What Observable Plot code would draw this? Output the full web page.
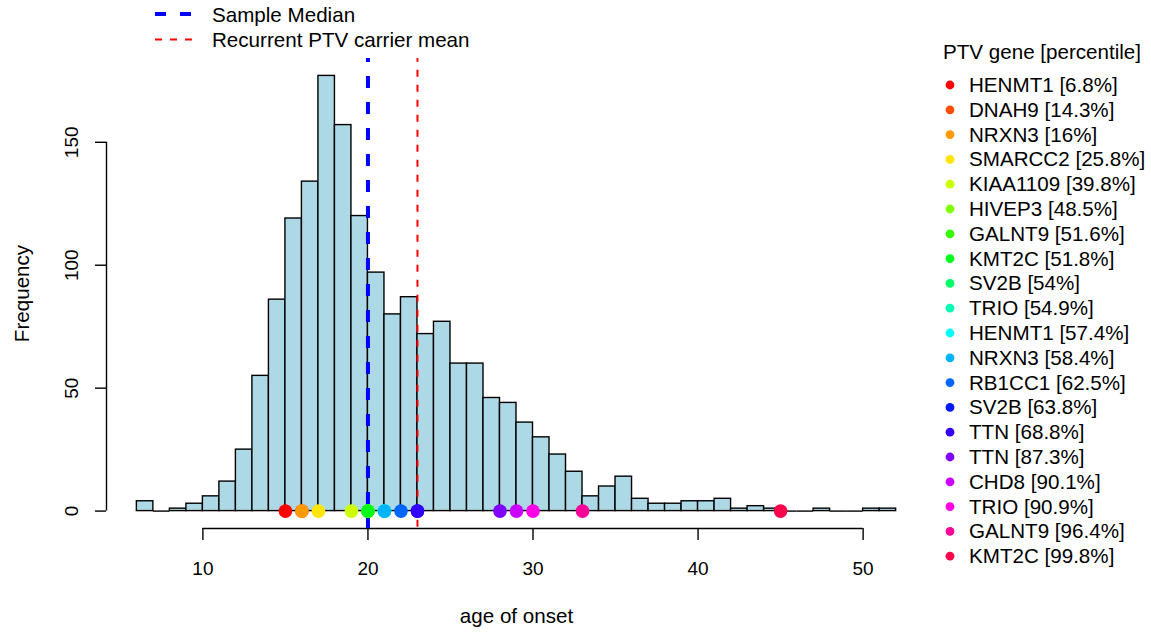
<!DOCTYPE html>
<html>
<head>
<meta charset="utf-8">
<script src="https://cdn.jsdelivr.net/npm/d3@7"></script>
<script src="https://cdn.jsdelivr.net/npm/@observablehq/plot@0.6"></script>
<style>
  body { margin: 0; background: #fff; }
  #wrap { position: relative; width: 1151px; height: 632px; font-family: "Liberation Sans", Arial, Helvetica, sans-serif; }
  #wrap svg.overlay { position: absolute; left: 0; top: 0; pointer-events: none; }
</style>
</head>
<body>
<div id="wrap"></div>
<script>
// ---- data ----
const binStarts = [6,7,8,9,10,11,12,13,14,15,16,17,18,19,20,21,22,23,24,25,26,27,28,29,30,31,32,33,34,35,36,37,38,39,40,41,42,43,44,45,46,47,48,49,50,51];
const counts    = [4,0,1,3,6,12,25,55,86,119,134,177,157,120,97,80,87,72,77,60,60,46,44,36,30,23,16,6,10,14,5,3,3,4,4,5,1,2,1,0,0,1,0,0,1,1];

const geneNames = ["HENMT1","DNAH9","NRXN3","SMARCC2","KIAA1109","HIVEP3","GALNT9","KMT2C","SV2B","TRIO","HENMT1","NRXN3","RB1CC1","SV2B","TTN","TTN","CHD8","TRIO","GALNT9","KMT2C"];
const genePercentiles = [6.8,14.3,16,25.8,39.8,48.5,51.6,51.8,54,54.9,57.4,58.4,62.5,63.8,68.8,87.3,90.1,90.9,96.4,99.8];
const geneAges = [15,16,16,17,19,20,20,20,21,21,21,21,22,23,23,28,29,30,33,45];
const geneColors = ["#FF0000","#FF4D00","#FF9900","#FFE500","#CCFF00","#80FF00","#33FF00","#00FF19","#00FF66","#00FFB2","#00FFFF","#00B3FF","#0066FF","#001AFF","#3300FF","#7F00FF","#CC00FF","#FF00E6","#FF0099","#FF004D"];

const xTicks = [10,20,30,40,50];
const yTicks = [0,50,100,150];
const sampleMedian = 20;
const carrierMean = 23;

const legendTitle = "PTV gene [percentile]";
const lineLegendLabels = ["Sample Median","Recurrent PTV carrier mean"];
const xLabel = "age of onset";
const yLabel = "Frequency";

// ---- derived tables ----
const bins = binStarts.map((s, i) => ({x1: s, x2: s + 1, count: counts[i]}));
const genes = geneNames.map((n, i) => ({name: n, pct: genePercentiles[i], age: geneAges[i], color: geneColors[i]}));

const xLo = d3.min(binStarts), xHi = d3.max(binStarts) + 1;
const xPad = (xHi - xLo) * 0.04;
const yMax = d3.max(counts), yPad = yMax * 0.04;

const FONT = '"Liberation Sans", Arial, Helvetica, sans-serif';

const chart = Plot.plot({
  width: 1151,
  height: 632,
  marginLeft: 106,
  marginRight: 225,
  marginTop: 58,
  marginBottom: 104,
  x: {domain: [xLo - xPad, xHi + xPad]},
  y: {domain: [-yPad, yMax + yPad]},
  color: {type: "identity"},
  style: {fontFamily: FONT, fontSize: "19px", background: "#fff", color: "#000"},
  marks: [
    Plot.rect(bins, {x1: "x1", x2: "x2", y1: 0, y2: "count", fill: "#ADD8E6", stroke: "#000", strokeWidth: 1.4, inset: 0}),
    Plot.ruleY(bins.filter(b => b.count === 0), {y: "count", x1: "x1", x2: "x2", stroke: "#000", strokeWidth: 1.4}),
    Plot.ruleX([sampleMedian], {x: d => d, y1: -yPad, y2: yMax + yPad, stroke: "#0000FF", strokeWidth: 4, strokeDasharray: "12,14", strokeDashoffset: 2}),
    Plot.ruleX([carrierMean], {x: d => d, y1: -yPad, y2: yMax + yPad, stroke: "#FF0000", strokeWidth: 2, strokeDasharray: "7,8", strokeDashoffset: 13.7}),
    Plot.dot(genes, {x: "age", y: 0, r: 6.8, fill: "color", stroke: null}),
    // axes
    Plot.ruleY([-yPad], {x1: d3.min(xTicks), x2: d3.max(xTicks), stroke: "#000", strokeWidth: 1.4}),
    Plot.ruleX([xLo - xPad], {y1: d3.min(yTicks), y2: d3.max(yTicks), stroke: "#000", strokeWidth: 1.4}),
    Plot.axisX({ticks: xTicks, tickSize: 12, fill: "none", label: null, strokeWidth: 1.4}),
    Plot.axisY({ticks: yTicks, tickSize: 11, fill: "none", label: null, strokeWidth: 1.4}),
    Plot.text(xTicks, {x: d => d, text: d => String(d), frameAnchor: "bottom", dy: 46, lineAnchor: "bottom", fontSize: 19}),
    Plot.text(yTicks, {y: d => d, text: d => String(d), frameAnchor: "left", dx: -29, rotate: -90, textAnchor: "middle", lineAnchor: "bottom", fontSize: 19}),
    Plot.text([yLabel], {text: d => d, frameAnchor: "left", dx: -78, rotate: -90, textAnchor: "middle", lineAnchor: "bottom", fontSize: 20.6}),
    Plot.text([xLabel], {text: d => d, frameAnchor: "bottom", dy: 94, lineAnchor: "bottom", fontSize: 20.6})
  ]
});

const wrap = document.getElementById("wrap");
wrap.appendChild(chart);

// ---- legends (overlay) ----
const ov = d3.select(wrap).append("svg")
  .attr("class", "overlay")
  .attr("width", 1151).attr("height", 632)
  .style("font-family", FONT).style("font-size", "20.6px");

// top line legend
const lineStyles = [
  {stroke: "#0000FF", width: 4, dash: "11,14"},
  {stroke: "#FF0000", width: 2, dash: "7,8"}
];
lineLegendLabels.forEach((lab, i) => {
  const cy = 14 + i * 25.5;
  ov.append("line").attr("x1", 155).attr("x2", 193).attr("y1", cy).attr("y2", cy)
    .attr("stroke", lineStyles[i].stroke).attr("stroke-width", lineStyles[i].width)
    .attr("stroke-dasharray", lineStyles[i].dash);
  ov.append("text").attr("x", 212).attr("y", cy + 7.5).attr("fill", "#000").text(lab);
});

// right gene legend
ov.append("text").attr("x", 943).attr("y", 59).attr("fill", "#000").text(legendTitle);
genes.forEach((g, i) => {
  const cy = 85 + i * 24.8;
  ov.append("circle").attr("cx", 950).attr("cy", cy).attr("r", 4.4).attr("fill", g.color);
  ov.append("text").attr("x", 969).attr("y", cy + 7).attr("fill", "#000").text(`${g.name} [${g.pct}%]`);
});
</script>
</body>
</html>
